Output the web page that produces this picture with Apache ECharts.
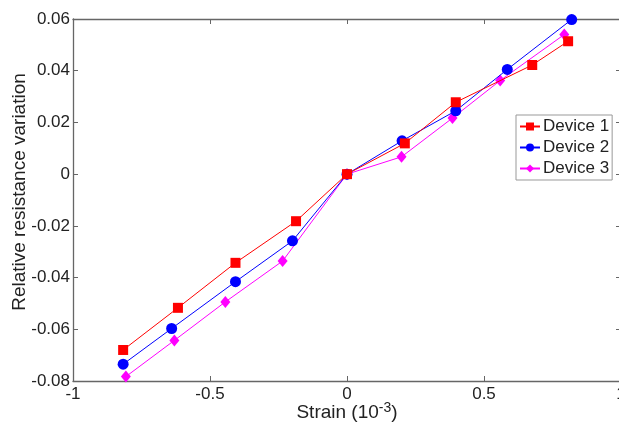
<!DOCTYPE html>
<html><head><meta charset="utf-8">
<script src="https://cdn.jsdelivr.net/npm/echarts@6/dist/echarts.min.js"></script>
<style>html,body{margin:0;padding:0;background:#fff}#c{width:619px;height:428px}</style>
</head><body><div id="c"></div>
<script>
var seriesNames = ['Device 1', 'Device 2', 'Device 3'];
var dev1X = [-0.817, -0.617, -0.407, -0.186, 0, 0.211, 0.397, 0.676, 0.807];
var dev1Y = [-0.068, -0.0517, -0.0343, -0.0182, 0, 0.0119, 0.0278, 0.0422, 0.0514];
var dev2X = [-0.817, -0.64, -0.407, -0.199, 0, 0.201, 0.397, 0.585, 0.82];
var dev2Y = [-0.0735, -0.0597, -0.0416, -0.0258, 0, 0.0129, 0.0245, 0.0405, 0.0598];
var dev3X = [-0.807, -0.63, -0.444, -0.235, 0, 0.199, 0.385, 0.559, 0.793];
var dev3Y = [-0.0783, -0.0643, -0.0494, -0.0336, 0, 0.0067, 0.0217, 0.0362, 0.054];
var colors = ['#ff0000', '#0000ff', '#ff00ff'];
var symbols = ['rect', 'circle', 'diamond'];
var symbolSizes = [[10, 10], [11, 11], [10, 12]];

function pairs(xs, ys) { return xs.map(function (x, i) { return [x, ys[i]]; }); }
var allX = [dev1X, dev2X, dev3X], allY = [dev1Y, dev2Y, dev3Y];

var font = 'Liberation Sans, Arial, sans-serif';
var axisCol = '#666';
var txtCol = '#222';
var chart = echarts.init(document.getElementById('c'), null, {renderer: 'canvas'});
chart.setOption({
  animation: false,
  grid: {left: 73, top: 19, right: -2, bottom: 47, outerBoundsMode: 'none', containLabel: false},
  legend: {
    left: 516, top: 115, orient: 'vertical',
    data: seriesNames,
    backgroundColor: '#fff', borderColor: '#999', borderWidth: 1,
    padding: [3, 3, 3, 3], itemGap: 4, itemWidth: 20, itemHeight: 10,
    textStyle: {fontFamily: font, fontSize: 17, color: txtCol, padding: [0, 0, 0, -2]}
  },
  xAxis: [{
    type: 'value', min: -1, max: 1, interval: 0.5,
    name: '{a|Strain (10}{s|-3}{a|)}', nameLocation: 'middle', nameGap: 20, nameMoveOverlap: false,
    nameTextStyle: {rich: {a: {fontFamily: font, fontSize: 19, color: txtCol}, s: {fontFamily: font, fontSize: 14, color: txtCol, verticalAlign: 'top', padding: [0, 0, 10, 0]}}},
    axisLine: {show: true, onZero: false, lineStyle: {color: axisCol, width: 1.3}},
    axisTick: {show: true, inside: true, length: 5, lineStyle: {color: axisCol}},
    axisLabel: {fontFamily: font, fontSize: 17, color: txtCol, margin: 5},
    splitLine: {show: false}
  }, {
    type: 'value', position: 'top', min: -1, max: 1, interval: 0.5,
    axisLine: {show: true, onZero: false, lineStyle: {color: axisCol, width: 1.3}},
    axisTick: {show: true, inside: true, length: 5, lineStyle: {color: axisCol}},
    axisLabel: {show: false}, splitLine: {show: false}
  }],
  yAxis: [{
    type: 'value', min: -0.08, max: 0.06, interval: 0.02,
    name: 'Relative resistance variation', nameLocation: 'middle', nameGap: 44, nameMoveOverlap: false,
    nameTextStyle: {fontFamily: font, fontSize: 19, color: txtCol, padding: [0, 0, 0, 16]},
    axisLine: {show: true, onZero: false, lineStyle: {color: axisCol, width: 1.3}},
    axisTick: {show: true, inside: true, length: 5, lineStyle: {color: axisCol}},
    axisLabel: {fontFamily: font, fontSize: 17, color: txtCol, margin: 3,
      formatter: function (v) { return v === 0 ? '0' : (+v.toFixed(2)).toString(); }},
    splitLine: {show: false}
  }, {
    type: 'value', position: 'right', min: -0.08, max: 0.06, interval: 0.02,
    axisLine: {show: true, onZero: false, lineStyle: {color: axisCol}},
    axisTick: {show: true, inside: true, length: 5, lineStyle: {color: axisCol}},
    axisLabel: {show: false}, splitLine: {show: false}
  }],
  series: seriesNames.map(function (n, i) {
    return {
      name: n, type: 'line', data: pairs(allX[i], allY[i]),
      symbol: symbols[i], symbolSize: symbolSizes[i], showAllSymbol: true,
      lineStyle: {color: colors[i], width: 1},
      itemStyle: {color: colors[i]},
      z: 3 - i
    };
  })
});
</script></body></html>
